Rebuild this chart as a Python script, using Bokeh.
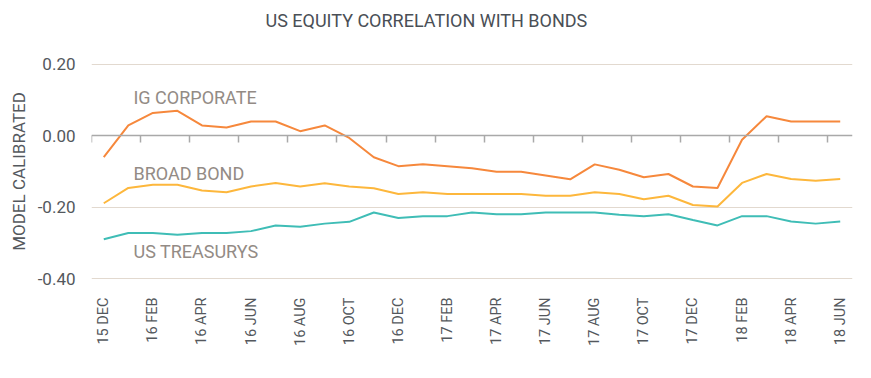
import math
from bokeh.plotting import figure
from bokeh.models import (ColumnDataSource, LinearAxis, FixedTicker, Label, Range1d, Title)
from bokeh.embed import file_html
from bokeh.resources import INLINE

months = ["15 DEC", "16 JAN", "16 FEB", "16 MAR", "16 APR", "16 MAY", "16 JUN", "16 JUL",
          "16 AUG", "16 SEP", "16 OCT", "16 NOV", "16 DEC", "17 JAN", "17 FEB", "17 MAR",
          "17 APR", "17 MAY", "17 JUN", "17 JUL", "17 AUG", "17 SEP", "17 OCT", "17 NOV",
          "17 DEC", "18 JAN", "18 FEB", "18 MAR", "18 APR", "18 MAY", "18 JUN"]

ig_corporate = [-0.060, 0.029, 0.064, 0.070, 0.029, 0.023, 0.040, 0.040, 0.013, 0.029,
                -0.006, -0.060, -0.085, -0.080, -0.085, -0.091, -0.101, -0.101, -0.111, -0.122,
                -0.080, -0.095, -0.116, -0.107, -0.142, -0.146, -0.011, 0.055, 0.040, 0.040, 0.040]

broad_bond = [-0.189, -0.146, -0.137, -0.137, -0.153, -0.158, -0.142, -0.132, -0.142, -0.133,
              -0.142, -0.147, -0.163, -0.158, -0.163, -0.163, -0.163, -0.163, -0.168, -0.168,
              -0.158, -0.163, -0.178, -0.168, -0.194, -0.198, -0.132, -0.107, -0.121, -0.126, -0.121]

us_treasurys = [-0.290, -0.272, -0.272, -0.277, -0.272, -0.272, -0.267, -0.251, -0.255, -0.246,
                -0.241, -0.215, -0.230, -0.225, -0.225, -0.215, -0.220, -0.220, -0.215, -0.215,
                -0.215, -0.221, -0.225, -0.220, -0.236, -0.251, -0.225, -0.225, -0.240, -0.246, -0.240]

y_ticks = [0.2, 0.0, -0.2, -0.4]
y_tick_labels = ["0.20", "0.00", "-0.20", "-0.40"]

title_text = "US EQUITY CORRELATION WITH BONDS"
series_names = ["IG CORPORATE", "BROAD BOND", "US TREASURYS"]
series_colors = ["#f6883c", "#fdb73c", "#3fbdb6"]

FONT = "Roboto"
TEXT_DARK = "#54585d"
LABEL_GREY = "#938b85"

x_idx = list(range(len(months)))
src = ColumnDataSource(dict(x=x_idx, ig=ig_corporate, bb=broad_bond, ust=us_treasurys))

p = figure(width=855, height=362, output_backend="svg", toolbar_location=None,
           x_range=Range1d(-0.5, len(months) - 0.5), y_range=Range1d(-0.4025, 0.2025),
           min_border_left=91, min_border_right=3, min_border_top=63, min_border_bottom=83,
           x_axis_type=None)
p.outline_line_color = None
p.background_fill_color = "white"
p.border_fill_color = "white"

# spacer between title and frame
p.add_layout(Title(text=" ", text_font_size="10px", standoff=15), "above")

# title
p.title.text = title_text
p.title.align = "left"
p.title.text_font = FONT
p.title.text_font_style = "normal"
p.title.text_font_size = "18px"
p.title.text_color = "#4a4f56"
p.title.standoff = 10
p.title.offset = 174

# lines
for col, c in zip(["ig", "bb", "ust"], series_colors):
    p.line("x", col, source=src, line_color=c, line_width=2)

# y axis
p.yaxis.ticker = FixedTicker(ticks=y_ticks)
p.yaxis.major_label_overrides = {t: l for t, l in zip(y_ticks, y_tick_labels)}
p.yaxis.axis_line_color = None
p.yaxis.major_tick_line_color = None
p.yaxis.minor_tick_line_color = None
p.yaxis.major_label_text_font = FONT
p.yaxis.major_label_text_font_size = "17px"
p.yaxis.major_label_text_color = TEXT_DARK
p.yaxis.major_label_standoff = 10
p.yaxis.axis_label = "MODEL CALIBRATED"
p.yaxis.axis_label_text_font = FONT
p.yaxis.axis_label_text_font_style = "normal"
p.yaxis.axis_label_text_font_size = "17px"
p.yaxis.axis_label_text_color = TEXT_DARK
p.yaxis.axis_label_standoff = 6

p.ygrid.ticker = FixedTicker(ticks=[t for t in y_ticks if t != 0])
p.ygrid.grid_line_color = "#e2d9cf"
p.ygrid.grid_line_width = 1
p.xgrid.grid_line_color = None

# bottom axis with month labels
label_ticks = x_idx[::2]
xaxis = LinearAxis(ticker=FixedTicker(ticks=label_ticks),
                   major_label_overrides={i: months[i] for i in label_ticks})
xaxis.axis_line_color = None
xaxis.major_tick_line_color = None
xaxis.minor_tick_line_color = None
xaxis.major_label_orientation = math.pi / 2
xaxis.major_label_text_font = FONT
xaxis.major_label_text_font_size = "14.5px"
xaxis.major_label_text_color = TEXT_DARK
xaxis.major_label_standoff = 12
p.add_layout(xaxis, "below")

# zero axis line with boundary ticks
zero_axis = LinearAxis(ticker=FixedTicker(ticks=[i - 0.5 for i in label_ticks]),
                       fixed_location=0)
zero_axis.axis_line_color = "#a9a9a9"
zero_axis.axis_line_width = 1.5
zero_axis.major_tick_line_color = "#a9a9a9"
zero_axis.major_tick_line_width = 1.5
zero_axis.major_tick_in = 0
zero_axis.major_tick_out = 7
zero_axis.minor_tick_line_color = None
zero_axis.major_label_text_alpha = 0
zero_axis.major_label_text_font_size = "1px"
p.add_layout(zero_axis, "below")

# series labels
label_pos = [(1.21, 0.107), (1.21, -0.105), (1.21, -0.325)]
for name, (lx, ly) in zip(series_names, label_pos):
    p.add_layout(Label(x=lx, y=ly, text=name, text_font=FONT, text_font_size="18px",
                       text_color=LABEL_GREY, text_baseline="alphabetic", text_align="left"))

open("out.html", "w").write(file_html(p, INLINE))
